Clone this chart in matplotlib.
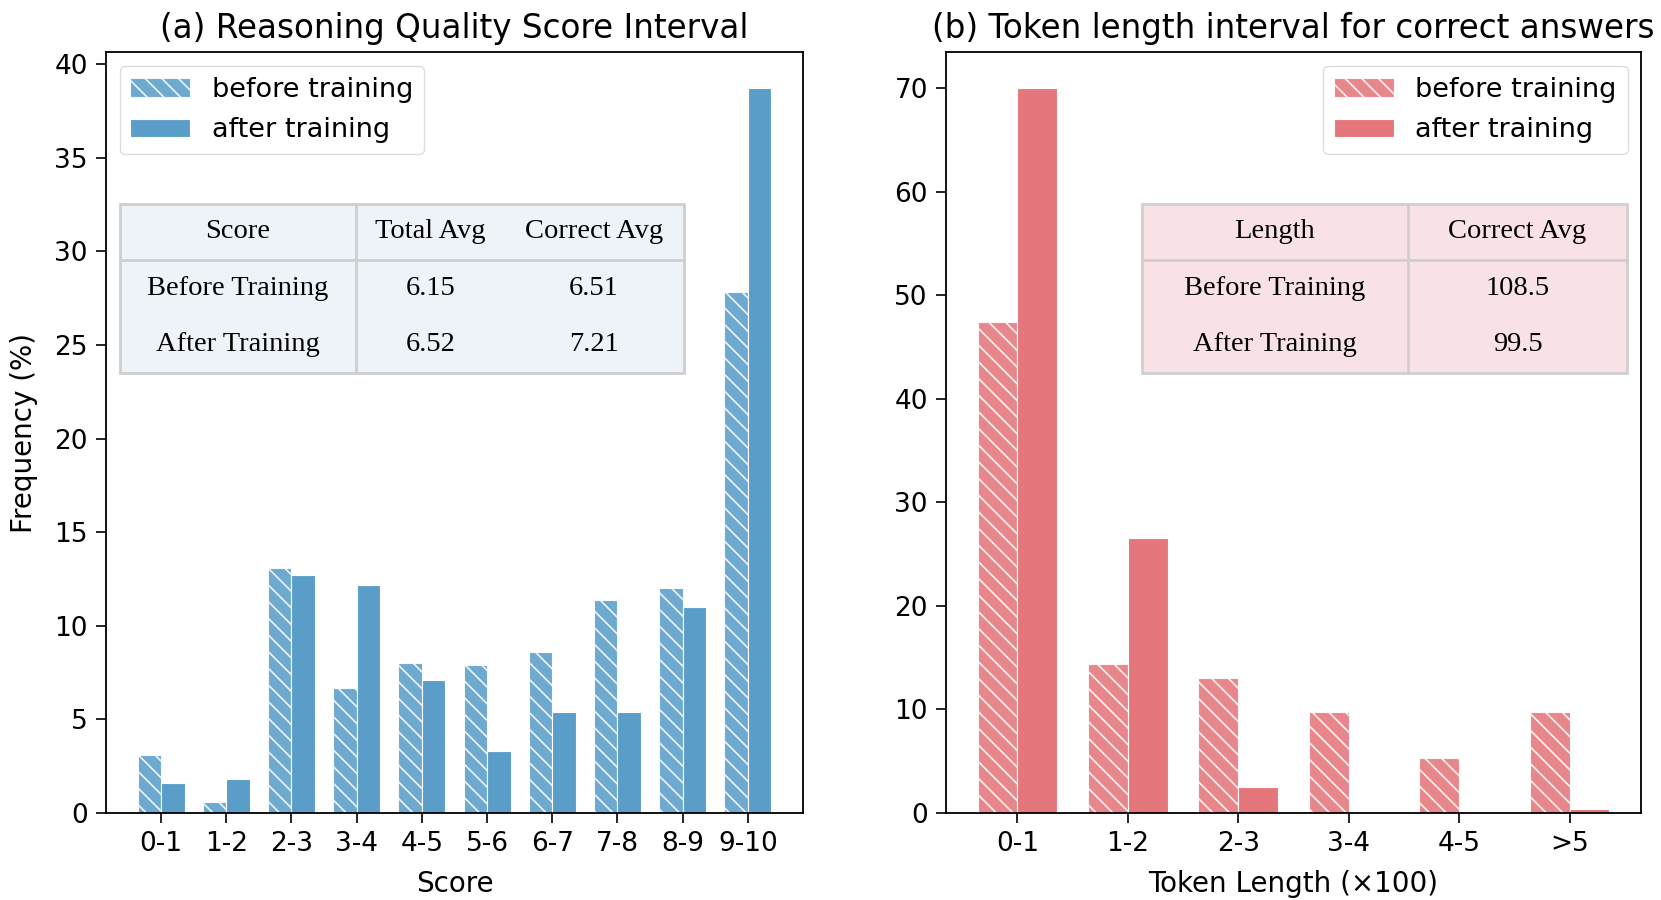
import numpy as np
import matplotlib
matplotlib.use('Agg')
import matplotlib.pyplot as plt
from matplotlib.patches import Rectangle

plt.rcParams['hatch.linewidth'] = 1.2
plt.rcParams['hatch.color'] = 'white'

# Panel (a): reasoning quality score distribution (%)
score_bins = ['0-1', '1-2', '2-3', '3-4', '4-5', '5-6', '6-7', '7-8', '8-9', '9-10']
score_before = [3.1, 0.6, 13.1, 6.7, 8.0, 7.9, 8.6, 11.4, 12.0, 27.8]
score_after = [1.6, 1.8, 12.7, 12.2, 7.1, 3.3, 5.4, 5.4, 11.0, 38.7]

# Panel (b): token length distribution for correct answers (%)
length_bins = ['0-1', '1-2', '2-3', '3-4', '4-5', '>5']
length_before = [47.4, 14.4, 13.0, 9.8, 5.3, 9.8]
length_after = [70.0, 26.6, 2.5, 0.0, 0.0, 0.4]

# Inset tables
score_table = [['Score', 'Total Avg', 'Correct Avg'],
               ['Before Training', '6.15', '6.51'],
               ['After Training', '6.52', '7.21']]
length_table = [['Length', 'Correct Avg'],
                ['Before Training', '108.5'],
                ['After Training', '99.5']]

blue = '#5A9DC9'
red = '#E5767B'
width = 0.36


def draw_bars(ax, labels, before, after, color):
    x = np.arange(len(labels))
    ax.bar(x - width/2, before, width, color=color, alpha=0.88, hatch='\\\\',
           edgecolor='white', linewidth=0.8, label='before training')
    ax.bar(x + width/2, after, width, color=color,
           edgecolor='white', linewidth=0.8, label='after training')
    ax.set_xticks(x)
    ax.set_xticklabels(labels)
    ax.tick_params(labelsize=19, length=7, width=1.2, pad=6)
    for s in ax.spines.values():
        s.set_linewidth(1.3)


def draw_table(ax, rows, bbox, col_widths, face):
    tab = ax.table(cellText=rows, cellLoc='center', bbox=bbox,
                   colWidths=col_widths)
    tab.auto_set_font_size(False)
    tab.set_fontsize(20.5)
    for (r, c), cell in tab.get_celld().items():
        cell.set_edgecolor(face)
        cell.set_linewidth(0.5)
        cell.set_facecolor(face)
        cell.get_text().set_fontfamily('Liberation Serif')
        cell.get_text().set_va('center')
    tab.set_zorder(5)
    # grid: outer frame, line under header, line after first column
    x0, y0, w, h = bbox
    line = dict(color='#cfcfcf', lw=2, transform=ax.transAxes,
                clip_on=False, zorder=6)
    ax.add_patch(Rectangle((x0, y0), w, h, fill=False, ec='#cfcfcf', lw=2,
                           transform=ax.transAxes, clip_on=False, zorder=6))
    ax.plot([x0, x0 + w], [y0 + h*2/3, y0 + h*2/3], **line)
    xs = x0 + w*col_widths[0]/sum(col_widths)
    ax.plot([xs, xs], [y0, y0 + h], **line)


fig = plt.figure(figsize=(16.61, 9), dpi=100)
ax1 = fig.add_axes([0.0638, 0.0967, 0.4196, 0.8453])
ax2 = fig.add_axes([0.5695, 0.0967, 0.4185, 0.8453])

draw_bars(ax1, score_bins, score_before, score_after, blue)
ax1.set_yticks(np.arange(0, 41, 5))
ax1.set_title('(a) Reasoning Quality Score Interval', fontsize=23.5, pad=10)
ax1.set_xlabel('Score', fontsize=20, labelpad=9)
ax1.set_ylabel('Frequency (%)', fontsize=20, labelpad=12)
ax1.legend(loc='upper left', fontsize=19.5, handlelength=2.2, labelspacing=0.55,
           borderaxespad=0.5, framealpha=1, edgecolor='#dddddd')
draw_table(ax1, score_table, [0.02, 0.578, 0.809, 0.223],
           [0.419, 0.263, 0.318], '#EEF3FA')

draw_bars(ax2, length_bins, length_before, length_after, red)
ax2.set_yticks(np.arange(0, 71, 10))
ax2.set_title('(b) Token length interval for correct answers', fontsize=23.5, pad=10)
ax2.set_xlabel('Token Length (\u00d7100)', fontsize=20, labelpad=9)
ax2.legend(loc='upper right', fontsize=19.5, handlelength=2.2, labelspacing=0.55,
           borderaxespad=0.5, framealpha=1, edgecolor='#dddddd')
draw_table(ax2, length_table, [0.282, 0.578, 0.698, 0.223],
           [0.548, 0.452], '#F9E2E5')

fig.savefig('out.png', dpi=100)
